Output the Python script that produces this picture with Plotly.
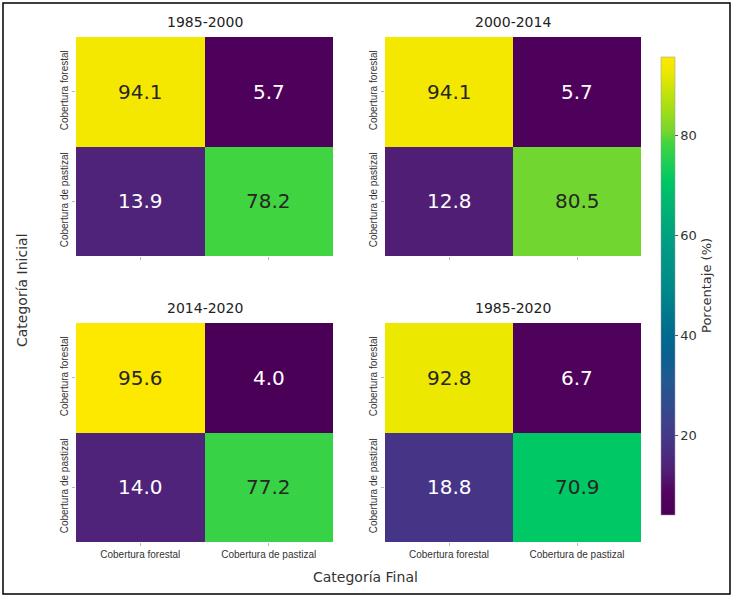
import plotly.graph_objects as go
from plotly.subplots import make_subplots

periods = ["1985-2000", "2000-2014", "2014-2020", "1985-2020"]
categories = ["Cobertura forestal", "Cobertura de pastizal"]
values_1985_2000 = [[94.1, 5.7], [13.9, 78.2]]
values_2000_2014 = [[94.1, 5.7], [12.8, 80.5]]
values_2014_2020 = [[95.6, 4.0], [14.0, 77.2]]
values_1985_2020 = [[92.8, 6.7], [18.8, 70.9]]
all_values = [values_1985_2000, values_2000_2014, values_2014_2020, values_1985_2020]
cbar_ticks = [20, 40, 60, 80]

# saturated viridis-like colour scale as seen in the reference
colorscale = [
    [0.0, "#4b0058"], [0.05, "#52045e"], [0.1, "#512078"], [0.16, "#463586"],
    [0.2, "#3e4189"], [0.3, "#1f5a90"], [0.35, "#0a6090"], [0.4, "#006c8e"],
    [0.5, "#008a8a"], [0.6, "#009e82"], [0.7, "#00bc6c"], [0.73, "#00c864"],
    [0.81, "#40d440"], [0.84, "#7ad62c"], [0.9, "#b0e010"], [0.97, "#eee800"],
    [1.0, "#fde800"],
]

W, H = 735, 597
zmin = min(min(r) for m in all_values for r in m)
zmax = max(max(r) for m in all_values for r in m)

fig = make_subplots(rows=2, cols=2)

xdoms = [(76 / W, 333 / W), (385 / W, 641 / W)]
ydoms = [(1 - 256 / H, 1 - 37 / H), (1 - 542 / H, 1 - 323 / H)]

tick_font = dict(family="Liberation Sans, Arial, sans-serif", size=10, color="#333333")

for i, (per, vals) in enumerate(zip(periods, all_values)):
    r, c = i // 2, i % 2
    fig.add_trace(go.Heatmap(z=vals, x=categories, y=categories, coloraxis="coloraxis",
                             xgap=0, ygap=0, hoverinfo="z"), row=r + 1, col=c + 1)
    ax = "" if i == 0 else str(i + 1)
    xa, ya = "xaxis" + ax, "yaxis" + ax
    fig.layout[xa].update(domain=xdoms[c], showticklabels=(r == 1), ticks="outside",
                          ticklen=3, tickcolor="#bbbbbb", tickfont=tick_font,
                          showgrid=False, zeroline=False, showline=False)
    fig.layout[ya].update(domain=ydoms[r], autorange="reversed", tickangle=-90,
                          ticks="outside", ticklen=3, tickcolor="#bbbbbb", tickfont=tick_font,
                          showgrid=False, zeroline=False, showline=False)
    for ri, row in enumerate(vals):
        for ci, v in enumerate(row):
            fig.add_annotation(x=categories[ci], y=categories[ri], text=f"{v:.1f}",
                               xref="x" + ax, yref="y" + ax, showarrow=False,
                               font=dict(family="DejaVu Sans", size=20,
                                         color="#ffffff" if v < 50 else "#262626"))
    fig.add_annotation(x=sum(xdoms[c]) / 2, y=ydoms[r][1] + 15 / H, xref="paper", yref="paper",
                       text=per, showarrow=False, xanchor="center", yanchor="middle",
                       font=dict(family="DejaVu Sans", size=14, color="#222222"))

fig.update_layout(
    width=W, height=H,
    margin=dict(l=0, r=0, t=0, b=0),
    paper_bgcolor="white", plot_bgcolor="white",
    coloraxis=dict(
        colorscale=colorscale, cmin=zmin, cmax=zmax,
        colorbar=dict(x=661 / W, xanchor="left", y=1 - 286 / H, yanchor="middle",
                      len=(515 - 57) / H, lenmode="fraction", thickness=14,
                      thicknessmode="pixels", xpad=0, ypad=0,
                      tickvals=cbar_ticks, ticks="outside",
                      ticklen=3, tickcolor="#555555", outlinewidth=0.5, outlinecolor="#999999",
                      tickfont=dict(family="DejaVu Sans", size=13, color="#333333")),
    ),
    showlegend=False,
)

fig.add_annotation(x=706 / W, y=1 - 286 / H, xref="paper", yref="paper", text="Porcentaje (%)",
                   textangle=-90, showarrow=False, xanchor="center", yanchor="middle",
                   font=dict(family="DejaVu Sans", size=13, color="#333333"))
fig.add_annotation(x=22 / W, y=1 - 290 / H, xref="paper", yref="paper", text="Categoría Inicial",
                   textangle=-90, showarrow=False, xanchor="center", yanchor="middle",
                   font=dict(family="DejaVu Sans", size=14, color="#333333"))
fig.add_annotation(x=365 / W, y=1 - 577 / H, xref="paper", yref="paper", text="Categoría Final",
                   showarrow=False, xanchor="center", yanchor="middle",
                   font=dict(family="DejaVu Sans", size=14, color="#333333"))

fig.add_shape(type="rect", xref="paper", yref="paper", x0=3 / W, x1=730 / W, y0=3 / H, y1=594 / H,
              line=dict(color="black", width=1.5), fillcolor="rgba(0,0,0,0)")

fig.write_html("out.html", config={"displayModeBar": False},
               post_script="document.body.style.margin='0px';document.body.style.overflow='hidden';")
